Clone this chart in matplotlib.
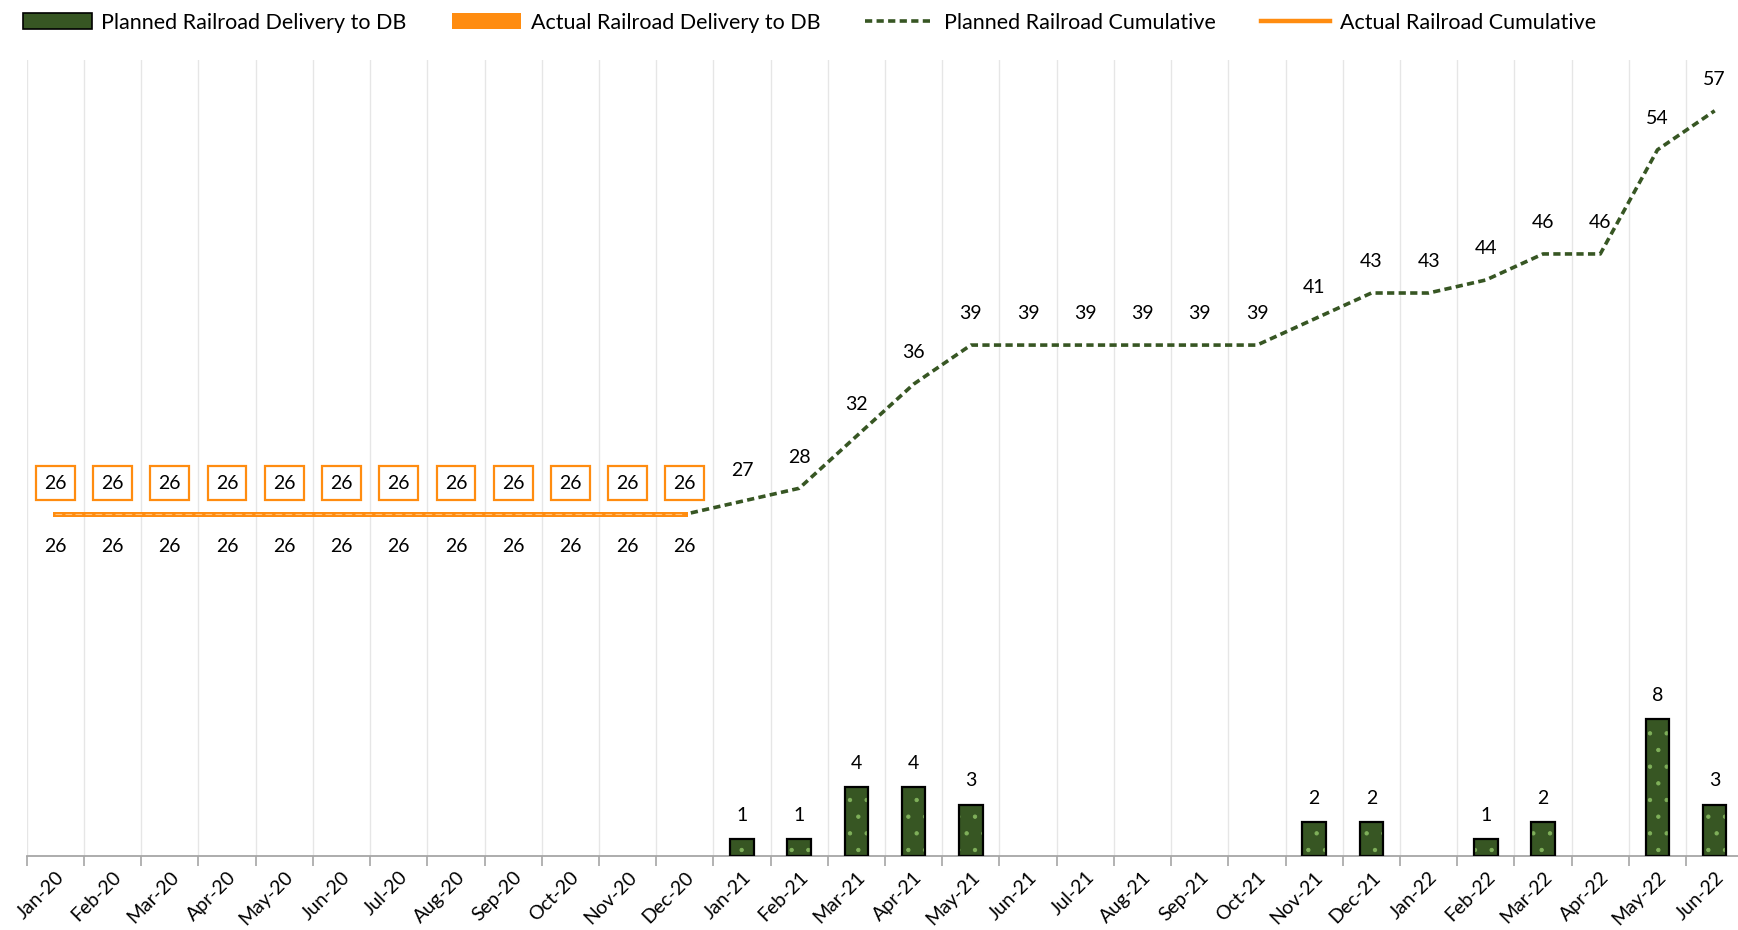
import matplotlib
matplotlib.use("Agg")
import matplotlib.pyplot as plt
import numpy as np
from matplotlib.patches import Patch
from matplotlib.lines import Line2D

months = ["Jan-20","Feb-20","Mar-20","Apr-20","May-20","Jun-20","Jul-20","Aug-20","Sep-20","Oct-20","Nov-20","Dec-20",
          "Jan-21","Feb-21","Mar-21","Apr-21","May-21","Jun-21","Jul-21","Aug-21","Sep-21","Oct-21","Nov-21","Dec-21",
          "Jan-22","Feb-22","Mar-22","Apr-22","May-22","Jun-22"]
planned_delivery = [0,0,0,0,0,0,0,0,0,0,0,0,
                    1,1,4,4,3,0,0,0,0,0,2,2,
                    0,1,2,0,8,3]
actual_delivery = [0]*30
planned_cum = [26,26,26,26,26,26,26,26,26,26,26,26,
               27,28,32,36,39,39,39,39,39,39,41,43,
               43,44,46,46,54,57]
actual_cum = [26,26,26,26,26,26,26,26,26,26,26,26] + [None]*18

GREEN = "#375623"
DOT = "#7fb05a"
ORANGE = "#FF8C10"
plt.rcParams['font.family'] = ['Lato', 'DejaVu Sans']

fig = plt.figure(figsize=(17.38, 9.30), dpi=100)
W, H = 1738, 930
left, right, top, bottom = 26.8, 1743.3, 60, 856
ax = fig.add_axes([left/W, (H-bottom)/H, (right-left)/W, (bottom-top)/H])
x = np.arange(len(months))

# bars (skip zero values)
pd_arr = np.array([v if v else np.nan for v in planned_delivery], dtype=float)
plt.rcParams['hatch.linewidth'] = 0.7
ax.bar(x, pd_arr, width=0.41, color=GREEN, edgecolor=DOT, linewidth=0, hatch='.', zorder=2)
ax.bar(x, pd_arr, width=0.41, facecolor='none', edgecolor='black', linewidth=1.6, zorder=3)
for xi, v in zip(x, planned_delivery):
    if v:
        ax.annotate(str(v), (xi, v), xytext=(0, 17), textcoords='offset points',
                    ha='center', va='center', fontsize=14, color='black')

ax.set_xlim(-0.5, len(months)-0.5)
ax.set_ylim(0, 796/17.15)
ax.set_yticks([])
ax.set_xticks(x)
ax.set_xticklabels(months, rotation=45, ha='right', rotation_mode='anchor', fontsize=14)
ax.tick_params(axis='x', which='major', length=0, pad=9)
ax.set_xticks(np.arange(-0.5, len(months), 1), minor=True)
ax.tick_params(axis='x', which='minor', length=7, width=1.2, color='#a6a6a6')
ax.grid(axis='x', which='minor', color='#e6e6e6', linewidth=1)
for s in ['top', 'right', 'left']:
    ax.spines[s].set_visible(False)
ax.spines['bottom'].set_color('#a6a6a6')
ax.spines['bottom'].set_linewidth(1.3)

ax2 = ax.twinx()
ax2.set_ylim(-0.25, 60.9)
ax2.set_yticks([])
for s in ax2.spines.values():
    s.set_visible(False)

DASH = (0, (2.0, 1.2))
ax2.plot(x, planned_cum, color=GREEN, linewidth=2.6, linestyle=DASH, zorder=3)
ac = np.array([np.nan if v is None else v for v in actual_cum], dtype=float)
ax2.plot(x, ac, color=ORANGE, linewidth=3.6, zorder=4)
ax2.plot(x, ac, color='#FFC27A', linewidth=0.8, linestyle=(0, (6, 3)), zorder=5)

for i, v in enumerate(planned_cum):
    if actual_cum[i] is not None:
        ax2.annotate(str(v), (i, v), xytext=(0, -23), textcoords='offset points',
                     ha='center', va='center', fontsize=14, color='black')
    else:
        ax2.annotate(str(v), (i, v), xytext=(0, 22.5), textcoords='offset points',
                     ha='center', va='center', fontsize=14, color='black')
for i, v in enumerate(actual_cum):
    if v is not None:
        ax2.annotate(str(v), (i, v), xytext=(0, 22.5), textcoords='offset points',
                     ha='center', va='center', fontsize=14, color='black',
                     bbox=dict(boxstyle='square,pad=0.42', fc='white', ec=ORANGE, lw=1.6))

handles = [
    Patch(facecolor=GREEN, edgecolor='black', linewidth=1.2),
    Patch(facecolor=ORANGE, edgecolor='none'),
    Line2D([0], [0], color=GREEN, linewidth=2.6, linestyle=DASH),
    Line2D([0], [0], color=ORANGE, linewidth=3.2),
]
labels = ["Planned Railroad Delivery to DB", "Actual Railroad Delivery to DB",
          "Planned Railroad Cumulative", "Actual Railroad Cumulative"]
fig.legend(handles, labels, loc='upper left', bbox_to_anchor=(0.002, 1.007), ncol=4,
           frameon=False, fontsize=15.5, handlelength=3.2, handleheight=0.75,
           handletextpad=0.45, columnspacing=2.1)

fig.savefig("out.png", dpi=100)
